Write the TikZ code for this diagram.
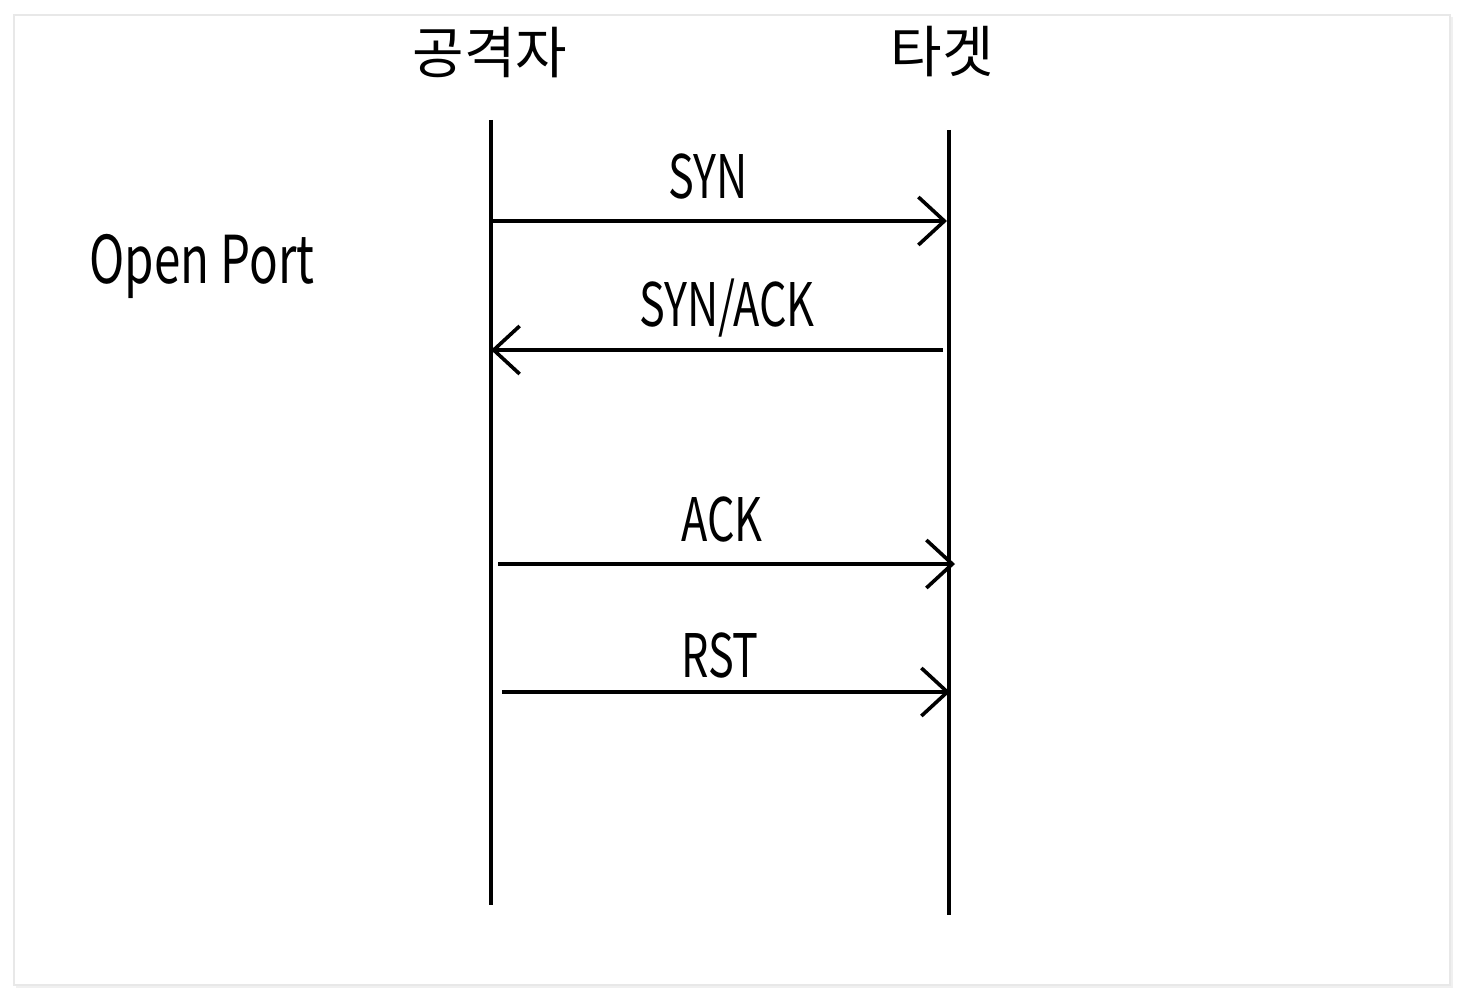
\documentclass[tikz,border=0pt]{standalone}
\usepackage{fontspec}
\setmainfont{Noto Sans CJK KR}
\usetikzlibrary{arrows.meta}
\newcommand{\hw}[1]{\scalebox{0.72}[1]{#1}}
\tikzset{
  lifeline/.style={line width=1.8pt},
  msg/.style={line width=1.8pt, -{Straight Barb[length=13pt,width=24pt,line width=1.8pt]}},
  lbl/.style={font=\fontsize{30}{34}\selectfont, inner sep=0pt},
  actor/.style={font=\fontsize{28}{32}\selectfont, inner sep=0pt},
}
\begin{document}
\begin{tikzpicture}[x=0.5pt,y=-0.5pt]
\useasboundingbox (0,0) rectangle (1465,1000);
\fill[white] (0,0) rectangle (1465,1000);
\fill[gray!12] (16,17) rectangle (1453,988);
\filldraw[fill=white,draw=gray!18,line width=0.6pt] (14,15) rectangle (1450,985);

\node[actor] (att) at (490,53) {공격자};
\node[actor] (tgt) at (942,52) {타겟};
\node[lbl, font=\fontsize{33}{38}\selectfont] (open) at (202,266) {\hw{Open Port}};

\coordinate (a0) at (491,120);
\coordinate (a1) at (491,905);
\coordinate (t0) at (949,130);
\coordinate (t1) at (949,915);
\draw[lifeline] (a0) -- (a1);
\draw[lifeline] (t0) -- (t1);

\coordinate (s1) at (491,221);
\coordinate (e1) at (947,221);
\draw[msg] (s1) -- (e1);
\node[lbl] (syn) at (708,177) {\hw{SYN}};

\coordinate (s2) at (943,350);
\coordinate (e2) at (491,350);
\draw[msg] (s2) -- (e2);
\node[lbl] (synack) at (727,308) {\hw{SYN/ACK}};

\coordinate (s3) at (498,564);
\coordinate (e3) at (955,564);
\draw[msg] (s3) -- (e3);
\node[lbl] (ack) at (722,520) {\hw{ACK}};

\coordinate (s4) at (502,692);
\coordinate (e4) at (950,692);
\draw[msg] (s4) -- (e4);
\node[lbl] (rst) at (720,656) {\hw{RST}};
\end{tikzpicture}
\end{document}
